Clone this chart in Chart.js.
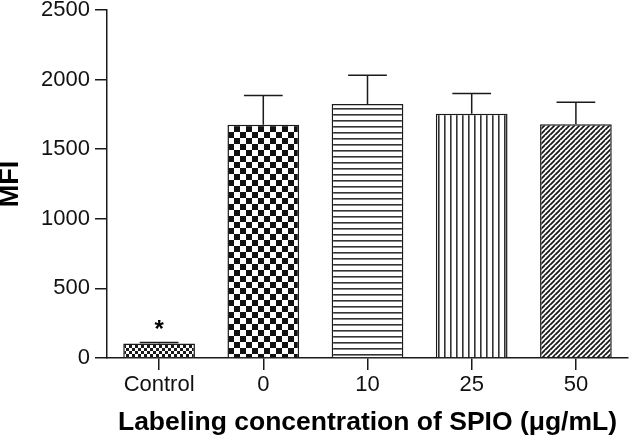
<!DOCTYPE html>
<html>
<head>
<meta charset="utf-8">
<script src="https://cdn.jsdelivr.net/npm/chart.js@4/dist/chart.umd.min.js"></script>
<style>
  body { margin: 0; background: #fff; }
</style>
</head>
<body>
<canvas id="myChart" width="632" height="443"></canvas>
<script>
const categories = ['Control', '0', '10', '25', '50']
const meanMFI = [105, 1675, 1825, 1755, 1680]
const errorMFI = [7, 210, 207, 145, 157]
const yTicks = [0, 500, 1000, 1500, 2000, 2500]
const significant = [true, false, false, false, false]

const ink = '#1a1a1a'
const fontFamily = "'Liberation Sans', Arial, sans-serif"

function makePattern(kind) {
    const c = document.createElement('canvas')
    const g = c.getContext('2d')
    if (kind === 'fineCheck') {
        c.width = 6; c.height = 6
        g.fillStyle = '#fff'; g.fillRect(0, 0, 6, 6)
        g.fillStyle = ink
        g.fillRect(0, 0, 3, 3); g.fillRect(3, 3, 3, 3)
    } else if (kind === 'check') {
        c.width = 12; c.height = 12
        g.fillStyle = '#fff'; g.fillRect(0, 0, 12, 12)
        g.fillStyle = '#111'
        g.fillRect(0, 0, 6, 6); g.fillRect(6, 6, 6, 6)
    } else if (kind === 'hlines') {
        c.width = 6; c.height = 6
        g.fillStyle = '#fff'; g.fillRect(0, 0, 6, 6)
        g.fillStyle = '#333'
        g.fillRect(0, 0, 6, 1.6)
    } else if (kind === 'vlines') {
        c.width = 6; c.height = 6
        g.fillStyle = '#fff'; g.fillRect(0, 0, 6, 6)
        g.fillStyle = '#333'
        g.fillRect(0, 0, 1.6, 6)
    } else if (kind === 'diag') {
        c.width = 5; c.height = 5
        g.fillStyle = '#fff'; g.fillRect(0, 0, 5, 5)
        g.strokeStyle = ink
        g.lineWidth = 1.8
        g.beginPath()
        for (let k = -5; k <= 10; k += 5) {
            g.moveTo(k - 5, 10); g.lineTo(k + 5, 0)
        }
        g.stroke()
    }
    return document.getElementById('myChart').getContext('2d').createPattern(c, 'repeat')
}

const fills = ['fineCheck', 'check', 'hlines', 'vlines', 'diag'].map(makePattern)

// upper error bars + significance star, read from meanMFI/errorMFI
const errorBars = {
    id: 'errorBars',
    afterDatasetsDraw(chart) {
        const ctx = chart.ctx
        const meta = chart.getDatasetMeta(0)
        const y = chart.scales.y
        ctx.save()
        ctx.strokeStyle = ink
        ctx.lineWidth = 1.5
        meta.data.forEach((bar, i) => {
            const top = y.getPixelForValue(meanMFI[i] + errorMFI[i])
            const half = bar.width * 0.27
            ctx.beginPath()
            ctx.moveTo(bar.x, bar.y)
            ctx.lineTo(bar.x, top)
            ctx.moveTo(bar.x - half, top)
            ctx.lineTo(bar.x + half, top)
            ctx.stroke()
            if (significant[i]) {
                ctx.fillStyle = '#000'
                ctx.font = 'bold 24px ' + fontFamily
                ctx.textAlign = 'center'
                ctx.textBaseline = 'alphabetic'
                ctx.fillText('*', bar.x, top - 5)
            }
        })
        ctx.restore()
    }
}

const myChart = new Chart(document.getElementById('myChart'), {
    type: 'bar',
    data: {
        labels: categories,
        datasets: [{
            label: 'MFI',
            data: meanMFI,
            backgroundColor: fills,
            borderColor: ink,
            borderWidth: 1.5,
            barPercentage: 0.86,
            categoryPercentage: 0.8
        }]
    },
    options: {
        responsive: false,
        animation: false,
        layout: { padding: { top: 10, right: 4, left: 0, bottom: 0 } },
        plugins: {
            legend: { display: false },
            tooltip: { enabled: false }
        },
        scales: {
            x: {
                grid: { offset: false, drawOnChartArea: false, tickLength: 12, color: ink, lineWidth: 1.5 },
                border: { color: ink, width: 1.5 },
                ticks: { color: '#111', padding: 2, font: { family: fontFamily, size: 22 } },
                title: {
                    display: true,
                    text: 'Labeling concentration of SPIO (\u03bcg/mL)',
                    color: '#000',
                    padding: { top: 4 },
                    font: { family: fontFamily, size: 26.5, weight: 'bold' }
                },
                afterFit(scale) {
                    scale.height = 85
                    scale.paddingLeft = 0
                    scale.paddingRight = 0
                }
            },
            y: {
                min: 0,
                max: 2500,
                afterBuildTicks(scale) {
                    scale.ticks = yTicks.map(v => ({ value: v }))
                },
                grid: { drawOnChartArea: false, tickLength: 12, color: ink, lineWidth: 1.5 },
                border: { color: ink, width: 1.5 },
                ticks: {
                    color: '#111',
                    padding: 5,
                    font: { family: fontFamily, size: 22 },
                    callback: v => String(v)
                },
                title: {
                    display: true,
                    text: 'MFI',
                    color: '#000',
                    padding: { top: -3, bottom: 0 },
                    font: { family: fontFamily, size: 27, weight: 'bold', lineHeight: 1 }
                },
                afterFit(scale) {
                    scale.width = 107
                    scale.paddingTop = 0
                    scale.paddingBottom = 0
                }
            }
        }
    },
    plugins: [errorBars]
})
</script>
</body>
</html>
